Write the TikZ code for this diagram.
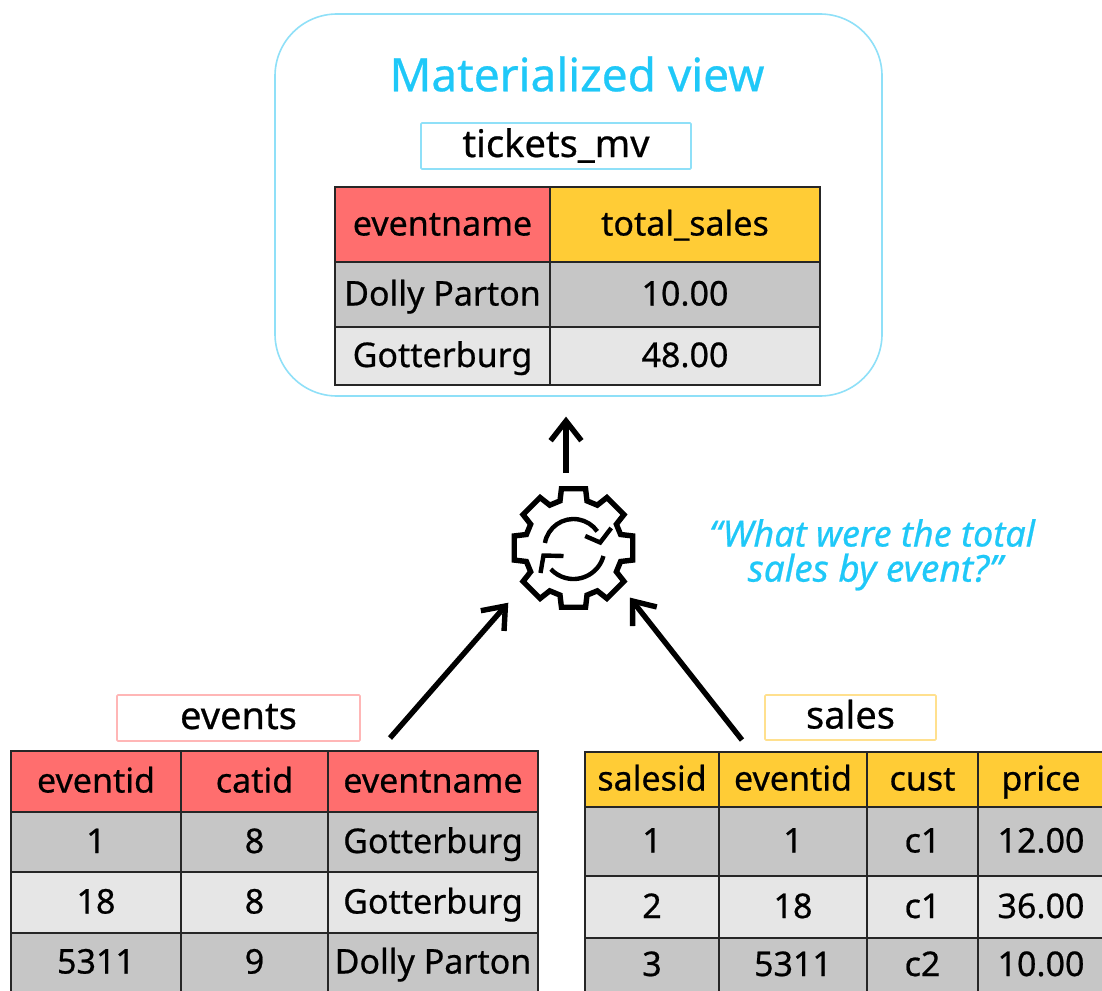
\documentclass[tikz,border=0pt]{standalone}
\usepackage{fontspec}
\setmainfont[FakeBold=0.6]{Noto Sans}
\usetikzlibrary{calc}
\definecolor{sky}{HTML}{1FC8F8}
\definecolor{skyline}{HTML}{8FE0F8}
\definecolor{redhead}{HTML}{FF6E6E}
\definecolor{yellowhead}{HTML}{FFCC36}
\definecolor{darkrow}{HTML}{C6C6C6}
\definecolor{lightrow}{HTML}{E6E6E6}
\definecolor{pinkline}{HTML}{FFB6B6}
\definecolor{yellowline}{HTML}{FFE08E}
\newcommand{\cellnode}[7]{%
  \pgfmathsetmacro{\cellw}{#4-#2}\pgfmathsetmacro{\cellh}{#5-#3}%
  \pgfmathsetmacro{\cellx}{(#2+#4)/2}\pgfmathsetmacro{\celly}{(#3+#5)/2}%
  \node[cellbox,fill=#6,minimum width=\cellw pt,minimum height=\cellh pt] (#1) at (\cellx,\celly) {#7};}
\newcommand{\flowarrow}[2]{%
  \draw[flow] (#1) -- (#2);
  \draw[flow,line join=miter] ($(#2)!25pt!38:(#1)$) -- (#2) -- ($(#2)!25pt!-38:(#1)$);}
\tikzset{
  cellbox/.style={draw=black!85,line width=1.6pt,inner sep=0pt,font=\fontsize{34}{34}\selectfont,text=black,text height=26pt,text depth=4pt,anchor=center},
  labelbox/.style={draw,fill=white,line width=1.6pt,inner sep=0pt,rounded corners=1pt,font=\fontsize{38}{38}\selectfont,text=black,text height=30pt,text depth=8pt},
  flow/.style={line width=5.4pt},
  gearline/.style={line width=5.4pt,line join=miter},
  gearmark/.style={line width=4.4pt}
}
\begin{document}
\begin{tikzpicture}[x=1pt,y=1pt,yscale=-1]
\path[use as bounding box] (0,0) rectangle (1102,990);
\clip (0,0) rectangle (1102,990);
\fill[white] (0,0) rectangle (1102,990);
% materialized view panel
\node[draw=skyline,line width=1.6pt,rounded corners=62pt,minimum width=607pt,minimum height=382pt,inner sep=0pt] (panel) at (578.5,205) {};
\node[text=sky,font=\fontsize{46}{46}\selectfont,inner sep=0pt] (title) at (577,74) {Materialized view};
\node[labelbox,draw=skyline,minimum width=270pt,minimum height=46pt] (mvlabel) at (556,146) {tickets\_mv};
\cellnode{a1}{335}{187}{550}{262}{redhead}{eventname}
\cellnode{a2}{550}{187}{820}{262}{yellowhead}{total\_sales}
\cellnode{a3}{335}{262}{550}{327}{darkrow}{Dolly Parton}
\cellnode{a4}{550}{262}{820}{327}{darkrow}{10.00}
\cellnode{a5}{335}{327}{550}{385}{lightrow}{Gotterburg}
\cellnode{a6}{550}{327}{820}{385}{lightrow}{48.00}
% events
\node[labelbox,draw=pinkline,minimum width=243pt,minimum height=46pt] (evlabel) at (238.5,718) {events};
\cellnode{b1}{11}{751}{181}{812}{redhead}{eventid}
\cellnode{b2}{181}{751}{328}{812}{redhead}{catid}
\cellnode{b3}{328}{751}{538}{812}{redhead}{eventname}
\cellnode{b4}{11}{812}{181}{872}{darkrow}{1}
\cellnode{b5}{181}{812}{328}{872}{darkrow}{8}
\cellnode{b6}{328}{812}{538}{872}{darkrow}{Gotterburg}
\cellnode{b7}{11}{872}{181}{933}{lightrow}{18}
\cellnode{b8}{181}{872}{328}{933}{lightrow}{8}
\cellnode{b9}{328}{872}{538}{933}{lightrow}{Gotterburg}
\cellnode{b10}{11}{933}{181}{992}{darkrow}{5311}
\cellnode{b11}{181}{933}{328}{992}{darkrow}{9}
\cellnode{b12}{328}{933}{538}{992}{darkrow}{Dolly Parton}
% sales
\node[labelbox,draw=yellowline,minimum width=171pt,minimum height=45pt] (salabel) at (850.5,717.5) {sales};
\cellnode{c1}{585}{752}{719}{807}{yellowhead}{salesid}
\cellnode{c2}{719}{752}{867}{807}{yellowhead}{eventid}
\cellnode{c3}{867}{752}{978}{807}{yellowhead}{cust}
\cellnode{c4}{978}{752}{1104}{807}{yellowhead}{price}
\cellnode{c5}{585}{807}{719}{876}{darkrow}{1}
\cellnode{c6}{719}{807}{867}{876}{darkrow}{1}
\cellnode{c7}{867}{807}{978}{876}{darkrow}{c1}
\cellnode{c8}{978}{807}{1104}{876}{darkrow}{12.00}
\cellnode{c9}{585}{876}{719}{938}{lightrow}{2}
\cellnode{c10}{719}{876}{867}{938}{lightrow}{18}
\cellnode{c11}{867}{876}{978}{938}{lightrow}{c1}
\cellnode{c12}{978}{876}{1104}{938}{lightrow}{36.00}
\cellnode{c13}{585}{938}{719}{992}{darkrow}{3}
\cellnode{c14}{719}{938}{867}{992}{darkrow}{5311}
\cellnode{c15}{867}{938}{978}{992}{darkrow}{c2}
\cellnode{c16}{978}{938}{1104}{992}{darkrow}{10.00}
% gear
\coordinate (gear) at (573.5,548);
\begin{scope}[shift={(gear)}]
\draw[gearline] (-16:49)
  \foreach \a in {0,45,...,315}{ -- (\a-16:49) -- (\a-11.5:60.5) -- (\a+11.5:60.5) -- (\a+16:49)} -- cycle;
\draw[gearmark] (190:29) arc[start angle=190,end angle=325,radius=29];
\draw[gearmark] (15:31) arc[start angle=15,end angle=137,radius=31];
\draw[gearmark] (11.7,-12) -- (26.7,-5.5) -- (37.7,-20);
\draw[gearmark] (-10,8) -- (-30,7.5) -- (-33,25);
\end{scope}
% connectors
\coordinate (upstart) at (566,473);
\coordinate (upend) at (566,421);
\coordinate (lstart) at (390,738);
\coordinate (lend) at (505.4,606);
\coordinate (rstart) at (742,740);
\coordinate (rend) at (632.5,601);
\flowarrow{upstart}{upend}
\flowarrow{lstart}{lend}
\flowarrow{rstart}{rend}
% question
\node[text=sky,font=\itshape\fontsize{36}{36}\selectfont,inner sep=0pt] (q1) at (872,533) {“What were the total};
\node[text=sky,font=\itshape\fontsize{37}{37}\selectfont,inner sep=0pt] (q2) at (875,572) {sales by event?”};
\end{tikzpicture}
\end{document}
